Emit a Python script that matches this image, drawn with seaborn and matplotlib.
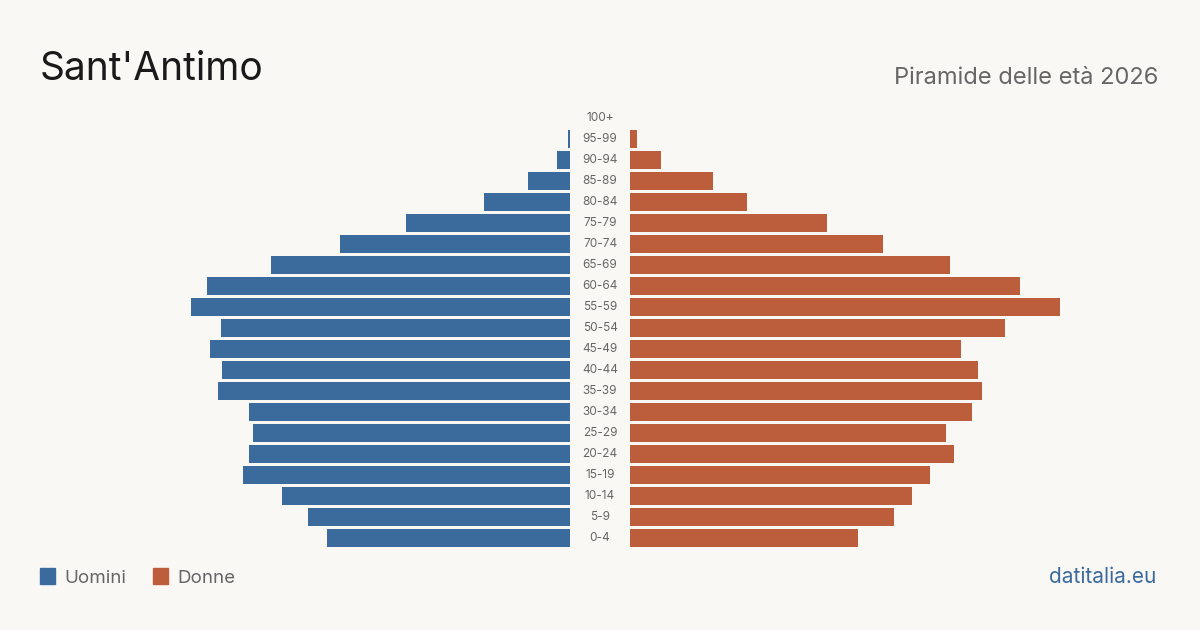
import matplotlib.pyplot as plt
import matplotlib.transforms as mtransforms
from matplotlib.patches import Rectangle
import pandas as pd
import seaborn as sns

# Data: estimated residents per age group
ages = ["100+", "95-99", "90-94", "85-89", "80-84", "75-79", "70-74", "65-69",
        "60-64", "55-59", "50-54", "45-49", "40-44", "35-39", "30-34", "25-29",
        "20-24", "15-19", "10-14", "5-9", "0-4"]
uomini = [0, 6, 39, 126, 258, 492, 690, 897, 1089, 1137, 1047, 1080, 1044,
          1056, 963, 951, 963, 981, 864, 786, 729]
donne = [0, 21, 93, 249, 351, 591, 759, 960, 1170, 1290, 1125, 993, 1044,
         1056, 1026, 948, 972, 900, 846, 792, 684]

df = pd.DataFrame({"age": ages, "Uomini": uomini, "Donne": donne})

BG = "#f9f8f4"
BLUE = "#3b6b9c"
ORANGE = "#bc5d3c"
GREY = "#666666"

sns.set_theme(style="white")
plt.rcParams["font.family"] = ["Inter", "DejaVu Sans"]

W, H = 1200, 630
fig = plt.figure(figsize=(12, 6.3), dpi=100, facecolor=BG)

per_px = 3.0  # people per pixel, same on both sides
top_px, bot_px = 107.5, 548.5
left_box = (150, 570)
right_box = (630, 1070)

def add_ax(x0, x1):
    return fig.add_axes([x0 / W, 1 - bot_px / H, (x1 - x0) / W, (bot_px - top_px) / H])

ax_l = add_ax(*left_box)
ax_r = add_ax(*right_box)

sns.barplot(data=df, x="Uomini", y="age", order=ages, color=BLUE, width=0.81,
            saturation=1, linewidth=0, ax=ax_l)
sns.barplot(data=df, x="Donne", y="age", order=ages, color=ORANGE, width=0.81,
            saturation=1, linewidth=0, ax=ax_r)

ax_l.set_xlim((left_box[1] - left_box[0]) * per_px, 0)
ax_r.set_xlim(0, (right_box[1] - right_box[0]) * per_px)

for ax in (ax_l, ax_r):
    ax.set_facecolor("none")
    ax.set_ylim(len(ages) - 0.5, -0.5)
    ax.set_xlabel("")
    ax.set_ylabel("")
    ax.set_xticks([])
    ax.set_yticks([])
    for s in ax.spines.values():
        s.set_visible(False)

# age labels in the middle gap
tr = mtransforms.blended_transform_factory(fig.transFigure, ax_l.transData)
for i, a in enumerate(ages):
    fig.text(600 / W, i, a, transform=tr, ha="center", va="center",
             fontsize=8.5, color=GREY)

# titles
fig.text(40 / W, 1 - 80 / H, "Sant'Antimo", fontsize=28, color="#1a1a1a",
         ha="left", va="baseline")
fig.text(1158 / W, 1 - 84 / H, "Piramide delle età 2026", fontsize=17,
         color=GREY, ha="right", va="baseline")

# legend
for x0, lab, col in [(40, "Uomini", BLUE), (153, "Donne", ORANGE)]:
    fig.patches.append(Rectangle((x0 / W, 1 - 584 / H), 15 / W, 16 / H,
                                 transform=fig.transFigure, color=col))
    fig.text((x0 + 24) / W, 1 - 583 / H, lab, fontsize=13.5, color=GREY,
             ha="left", va="baseline")

fig.text(1156 / W, 1 - 583 / H, "datitalia.eu", fontsize=15, color=BLUE,
         ha="right", va="baseline")

fig.savefig("out.png", dpi=100, facecolor=BG)
